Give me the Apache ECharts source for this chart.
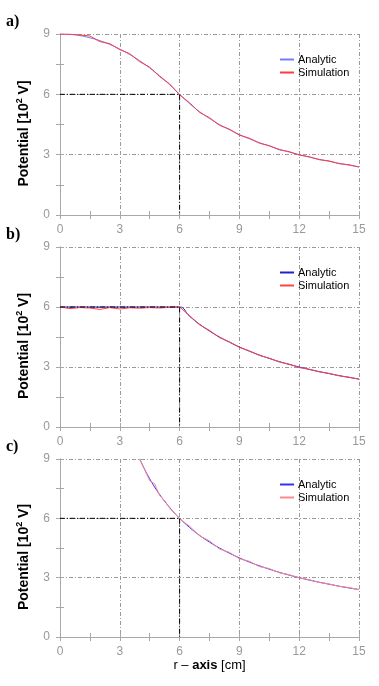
<!DOCTYPE html>
<html>
<head>
<meta charset="utf-8">
<script src="https://cdn.jsdelivr.net/npm/echarts@6/dist/echarts.min.js"></script>
<style>
  html, body { margin: 0; padding: 0; background: #fff; }
  #chart { width: 379px; height: 686px; }
</style>
</head>
<body>
<div id="chart"></div>
<script>
// tick labels
const xTicks = [0, 3, 6, 9, 12, 15];
const yTicks = [0, 3, 6, 9];
const panelLabels = ['a)', 'b)', 'c)'];

// a) uniformly charged sphere
const rA = [0, 0.5, 1, 1.5, 2, 2.5, 3, 3.5, 4, 4.5, 5, 5.5, 6, 6.5, 7, 7.5, 8, 8.5, 9, 9.5, 10, 10.5, 11, 11.5, 12, 12.5, 13, 13.5, 14, 14.5, 15];
const analyticA = [9.00, 8.98, 8.92, 8.81, 8.67, 8.48, 8.25, 7.98, 7.67, 7.31, 6.92, 6.48, 6.00, 5.54, 5.14, 4.80, 4.50, 4.24, 4.00, 3.79, 3.60, 3.43, 3.27, 3.13, 3.00, 2.88, 2.77, 2.67, 2.57, 2.48, 2.40];
const simulationA = [9.00, 8.99, 8.95, 8.90, 8.62, 8.52, 8.22, 8.02, 7.62, 7.35, 6.88, 6.52, 5.98, 5.58, 5.10, 4.84, 4.46, 4.27, 3.97, 3.82, 3.57, 3.45, 3.24, 3.15, 2.98, 2.90, 2.75, 2.69, 2.55, 2.50, 2.38];

// b) conducting sphere
const rB = rA;
const analyticB = [6.00, 6.00, 6.00, 6.00, 6.00, 6.00, 6.00, 6.00, 6.00, 6.00, 6.00, 6.00, 6.00, 5.54, 5.14, 4.80, 4.50, 4.24, 4.00, 3.79, 3.60, 3.43, 3.27, 3.13, 3.00, 2.88, 2.77, 2.67, 2.57, 2.48, 2.40];
const simulationB = [6.00, 5.92, 5.97, 5.95, 5.88, 5.97, 5.90, 5.96, 5.94, 5.97, 5.95, 5.98, 6.00, 5.57, 5.11, 4.83, 4.47, 4.26, 3.98, 3.81, 3.58, 3.44, 3.25, 3.14, 2.97, 2.89, 2.76, 2.68, 2.56, 2.49, 2.39];

// c) point charge
const rC = [4, 4.25, 4.5, 4.75, 5, 5.25, 5.5, 5.75, 6, 6.5, 7, 7.5, 8, 8.5, 9, 9.5, 10, 10.5, 11, 11.5, 12, 12.5, 13, 13.5, 14, 14.5, 15];
const analyticC = [9.00, 8.47, 8.00, 7.58, 7.20, 6.86, 6.55, 6.26, 6.00, 5.54, 5.14, 4.80, 4.50, 4.24, 4.00, 3.79, 3.60, 3.43, 3.27, 3.13, 3.00, 2.88, 2.77, 2.67, 2.57, 2.48, 2.40];
const simulationC = [9.00, 8.45, 7.90, 7.75, 7.15, 6.90, 6.52, 6.24, 5.98, 5.60, 5.12, 4.86, 4.45, 4.28, 3.96, 3.83, 3.56, 3.46, 3.25, 3.15, 2.99, 2.90, 2.76, 2.68, 2.56, 2.50, 2.39];

// dash-dot guide at r = 6, V = 6
const refR = [0, 6, 6];
const refV = [6, 6, 0];

const panels = [
  { r: rA, analytic: analyticA, simulation: simulationA, cA: '#7878ff', cS: '#ff3c3c' },
  { r: rB, analytic: analyticB, simulation: simulationB, cA: '#2020d0', cS: '#ff4444' },
  { r: rC, analytic: analyticC, simulation: simulationC, cA: '#3030ff', cS: '#ff8888' }
];

const tops = [34, 247, 459];
const heights = [181, 180, 178];
const font = 'Liberation Sans';
const frameColor = '#a8a8a8';
const gridColor = '#9a9a9a';

let dom = document.getElementById('chart');
let myChart = echarts.init(dom);

let grid = [], xAxis = [], yAxis = [], series = [], legend = [], graphic = [];

panels.forEach(function (p, i) {
  grid.push({ left: 60, width: 299, top: tops[i], height: heights[i] });

  let tick = { show: true, inside: true, length: 4, lineStyle: { color: frameColor } };
  let minor = { show: true, splitNumber: 2, length: 4, lineStyle: { color: frameColor } };
  let xBase = {
    type: 'value', gridIndex: i,
    min: xTicks[0], max: xTicks[xTicks.length - 1], interval: xTicks[1] - xTicks[0],
    axisLine: { show: true, lineStyle: { color: frameColor } },
    axisTick: tick,
    minorTick: minor
  };
  let yBase = {
    type: 'value', gridIndex: i,
    min: yTicks[0], max: yTicks[yTicks.length - 1], interval: yTicks[1] - yTicks[0],
    axisLine: { show: true, lineStyle: { color: frameColor } },
    axisTick: tick,
    minorTick: minor
  };

  let bottom = Object.assign({}, xBase, {
    position: 'bottom',
    axisLabel: { color: '#999', fontSize: 12, fontFamily: font, margin: 9 },
    splitLine: { show: true, lineStyle: { color: gridColor, type: [4, 2, 1, 2] } }
  });
  if (i === 2) {
    bottom.name = '{n|r – }{b|axis}{n| [cm]}';
    bottom.nameLocation = 'middle';
    bottom.nameGap = 22;
    bottom.nameTextStyle = {
      rich: {
        n: { fontFamily: font, fontSize: 13, color: '#000' },
        b: { fontFamily: font, fontSize: 13, color: '#000', fontWeight: 'bold' }
      }
    };
  }
  xAxis.push(bottom);
  xAxis.push(Object.assign({}, xBase, { position: 'top', axisLabel: { show: false }, splitLine: { show: false } }));

  yAxis.push(Object.assign({}, yBase, {
    position: 'left',
    axisLabel: { color: '#999', fontSize: 12, fontFamily: font, margin: 10 },
    splitLine: { show: true, lineStyle: { color: gridColor, type: [4, 2, 1, 2] } },
    name: '{t|Potential [10}{s|2}{t| V]}',
    nameLocation: 'middle',
    nameGap: 27,
    nameTextStyle: {
      padding: [0, 18, 0, 0],
      rich: {
        t: { fontFamily: font, fontSize: 14, fontWeight: 'bold', color: '#000' },
        s: { fontFamily: font, fontSize: 9, fontWeight: 'bold', color: '#000', padding: [0, 0, 9, 0] }
      }
    }
  }));
  yAxis.push(Object.assign({}, yBase, { position: 'right', axisLabel: { show: false }, splitLine: { show: false } }));

  series.push({
    name: 'Analytic', type: 'line', xAxisIndex: 2 * i, yAxisIndex: 2 * i,
    data: p.r.map(function (r, k) { return [r, p.analytic[k]]; }),
    symbol: 'none', smooth: true, lineStyle: { color: p.cA, width: 1 }, itemStyle: { color: p.cA }
  });
  series.push({
    name: 'Simulation', type: 'line', xAxisIndex: 2 * i, yAxisIndex: 2 * i,
    data: p.r.map(function (r, k) { return [r, p.simulation[k]]; }),
    symbol: 'none', lineStyle: { color: p.cS, width: 1 }, itemStyle: { color: p.cS }
  });
  series.push({
    name: 'ref', type: 'line', xAxisIndex: 2 * i, yAxisIndex: 2 * i, z: 5,
    data: refR.map(function (r, k) { return [r, refV[k]]; }),
    symbol: 'none', lineStyle: { color: '#000', width: 1, type: [5, 2, 1, 2] }
  });

  legend.push({
    orient: 'vertical', left: 275, top: tops[i] + 14,
    icon: 'rect', itemWidth: 14, itemHeight: 2, itemGap: 0,
    selectedMode: false,
    textStyle: { fontFamily: font, fontSize: 11, lineHeight: 13, color: '#000', padding: [0, 0, 0, -1] },
    data: [
      { name: 'Analytic', itemStyle: { color: p.cA } },
      { name: 'Simulation', itemStyle: { color: p.cS } }
    ]
  });

  graphic.push({
    type: 'text', left: 6, top: tops[i] - 20,
    style: { text: panelLabels[i], font: 'bold 16px "Liberation Serif"', fill: '#000' }
  });
});

let option = {
  animation: false,
  grid: grid,
  xAxis: xAxis,
  yAxis: yAxis,
  legend: legend,
  series: series,
  graphic: graphic
};
myChart.setOption(option, true);
</script>
</body>
</html>
